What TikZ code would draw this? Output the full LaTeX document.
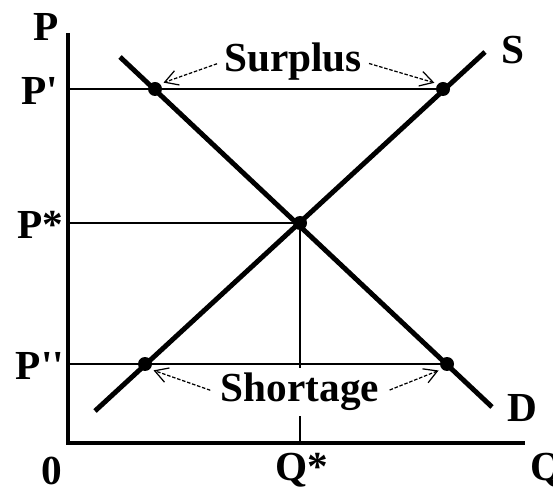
\documentclass[tikz,border=0pt]{standalone}
\usepackage{fontspec}
\setmainfont{Liberation Serif}
\usetikzlibrary{arrows.meta, positioning}

\begin{document}
\begin{tikzpicture}[x=0.02cm, y=-0.02cm,
    lbl/.style={font=\fontsize{23.5}{25}\selectfont\bfseries, inner sep=1pt},
    curve/.style={line width=2.8pt},
    axis/.style={line width=2.6pt, line join=miter},
    guide/.style={line width=0.9pt},
    dot/.style={circle, fill=black, inner sep=0pt, minimum size=2.8mm},
    note/.style={->, line width=0.7pt, dash pattern=on 2pt off 1pt, shorten >=2pt, shorten <=3pt},
    >={Straight Barb[length=2.6mm, width=3mm]},
]
\useasboundingbox (0,0) rectangle (553,492);
% --- axes -------------------------------------------------------------------
\coordinate (Ptop) at (68,33);
\coordinate (O) at (68,443);
\coordinate (Qend) at (525,443);
\draw[axis] (Ptop) -- (O) -- (Qend);
\node[lbl] (Plab) at (46,27) {P};
\node[lbl] (zero) at (52,471) {0};
\node[lbl] (Qstar) at (302,470) {Q*};
\node[lbl] (Qlab) at (547,470) {Q};
\node[lbl] (P1lab) at (40,91) {P\textquotesingle};
\node[lbl] (Pelab) at (40,225) {P*};
\node[lbl] (P2lab) at (40,366) {P\textquotesingle\textquotesingle};
% --- points on the price lines ----------------------------------------------
\coordinate (P1ax) at (68,89);
\coordinate (Peax) at (68,223);
\coordinate (P2ax) at (68,364);
\coordinate (Qax) at (300,443);
\node[dot] (sur1) at (155,89) {};
\node[dot] (sur2) at (443,89) {};
\node[dot] (eq) at (300,223) {};
\node[dot] (sho1) at (145,364) {};
\node[dot] (sho2) at (447,364) {};
\draw[guide] (P1ax) -- (sur2);
\draw[guide] (Peax) -- (eq);
\draw[guide] (P2ax) -- (sho2);
\draw[guide] (eq) -- (Qax);
% --- supply and demand ------------------------------------------------------
\coordinate (Dtop) at (120,57);
\coordinate (Dbot) at (492,407);
\coordinate (Sbot) at (95,411);
\coordinate (Stop) at (485,52);
\draw[curve] (Dtop) -- (Dbot);
\draw[curve] (Sbot) -- (Stop);
\node[lbl] (Slab) at (513,50) {S};
\node[lbl] (Dlab) at (522,408) {D};
% --- surplus / shortage -----------------------------------------------------
\node[lbl, fill=white] (surplus) at (293,62) {Surplus};
\node[lbl, fill=white, inner sep=3pt] (shortage) at (300,392) {Shortage};
\draw[note] (surplus.west) -- (sur1.north east);
\draw[note] (surplus.east) -- (sur2.north west);
\draw[note] (shortage.west) -- (sho1.south east);
\draw[note] (shortage.east) -- (sho2.south west);
\end{tikzpicture}
\end{document}
